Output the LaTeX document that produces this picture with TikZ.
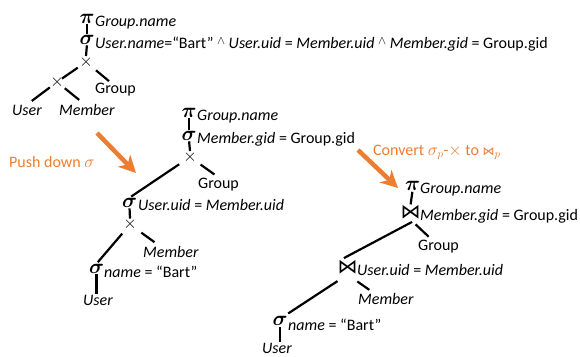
\documentclass[tikz,border=0pt]{standalone}
\usepackage{fontspec}
\setmainfont{Carlito}
\newfontfamily\djv{DejaVu Sans}
\usetikzlibrary{arrows.meta}
\definecolor{orng}{HTML}{ED7D31}
\newcommand\andop{ \raisebox{4pt}{\fontsize{13}{13}\selectfont$\wedge$} }
\tikzset{
  lab/.style={inner sep=0pt, font=\fontsize{16}{16}\selectfont, anchor=base west},
  leaf/.style={lab, font=\fontsize{16}{16}\selectfont\itshape},
  bigop/.style={inner sep=0pt, font=\fontsize{21}{21}\selectfont\boldmath},
  crs/.style={inner sep=0pt, font=\fontsize{16}{16}\selectfont},
  jn/.style={inner sep=0pt, font=\fontsize{20}{20}\selectfont\djv},
  e/.style 2 args={line width=2.2pt, shorten <=#1pt, shorten >=#2pt},
  note/.style={lab, text=orng},
  bigarrow/.style={orng, line width=4.5pt, -{Stealth[length=17pt,width=17pt,inset=5pt]}}
}
\begin{document}
\begin{tikzpicture}[x=1pt,y=-1pt]
\useasboundingbox (0,0) rectangle (580,356);
% ---------- tree 1
\node[bigop] (pi1) at (87,18.5) {$\pi$};
\node[lab] (pi1t) at (95,26) {\itshape Group.name};
\node[bigop] (sg1) at (87,39.5) {$\sigma$};
\node[lab] (sg1t) at (95,48) {\textit{User.name}=“Bart”\andop\textit{User.uid} = \textit{Member.uid}\andop\textit{Member.gid} = Group.gid};
\node[crs] (x1) at (86,62) {$\times$};
\node[crs] (x2) at (57,82) {$\times$};
\node[lab] (g1) at (95,93) {Group};
\node[leaf] (u1) at (12,115) {User};
\node[leaf] (m1) at (59,115) {Member};
\draw[e={1}{1}] (pi1.south) -- (sg1.north);
\draw[e={1}{0}] (sg1.south) -- (x1.north);
\draw[e={10}{6}] (x1.center) -- (x2.center);
\draw[e={13}{2}] (x1.center) -- ([xshift=-5pt]g1.north);
\draw[e={9}{6}] (x2.center) -- (u1.north);
\draw[e={10}{6}] (x2.center) -- ([xshift=-3pt]m1.north);
% ---------- arrow 1
\coordinate (a1s) at (97,133);
\coordinate (a1e) at (136,173);
\draw[bigarrow] (a1s) -- (a1e);
\node[note] (n1) at (9,167) {Push down $\sigma$};
% ---------- tree 2
\node[bigop] (pi2) at (189,112.5) {$\pi$};
\node[lab] (pi2t) at (197,120) {\itshape Group.name};
\node[bigop] (sg2) at (189,135.5) {$\sigma$};
\node[lab] (sg2t) at (197,143) {\textit{Member.gid} = Group.gid};
\node[crs] (x3) at (190,157) {$\times$};
\node[lab] (g2) at (198,188) {Group};
\node[bigop] (sg3) at (129.5,202.5) {$\sigma$};
\node[lab] (sg3t) at (138,210) {\textit{User.uid} = \textit{Member.uid}};
\node[crs] (x4) at (130,224.5) {$\times$};
\node[leaf] (m2) at (143,257) {Member};
\node[bigop] (sg4) at (96.5,268.5) {$\sigma$};
\node[lab] (sg4t) at (104,277) {\textit{name} = “Bart”};
\node[leaf] (u2) at (83,305) {User};
\draw[e={1}{1}] (pi2.south) -- (sg2.north);
\draw[e={1}{0}] (sg2.south) -- (x3.north);
\draw[e={13}{2}] (x3.center) -- (sg3.north);
\draw[e={13}{5}] (x3.center) -- (g2.north);
\draw[e={1}{0}] (sg3.south) -- (x4.north);
\draw[e={12}{2}] (x4.center) -- (sg4.north);
\draw[e={14}{6}] (x4.center) -- ([xshift=-11.5pt]m2.north);
\draw[e={1}{1}] (sg4.south) -- (sg4.south |- u2.north);
% ---------- arrow 2
\coordinate (a2s) at (358,150);
\coordinate (a2e) at (398,188);
\draw[bigarrow] (a2s) -- (a2e);
\node[note] (n2) at (373,155) {Convert $\sigma_p$-$\times$ to {\djv\fontsize{12}{12}\selectfont ⋈}$_p$};
% ---------- tree 3
\node[bigop] (pi3) at (412.5,186) {$\pi$};
\node[lab] (pi3t) at (420,193) {\itshape Group.name};
\node[jn] (j1) at (410.5,212.5) {⋈};
\node[lab] (j1t) at (420,220) {\textit{Member.gid} = Group.gid};
\node[lab] (g3) at (418,250) {Group};
\node[jn] (j2) at (347.5,267.5) {⋈};
\node[lab] (j2t) at (357,275) {\textit{User.uid} = \textit{Member.uid}};
\node[leaf] (m3) at (358,304) {Member};
\node[bigop] (sg5) at (280,321) {$\sigma$};
\node[lab] (sg5t) at (288,330) {\textit{name} = “Bart”};
\node[leaf] (u3) at (262,353) {User};
\draw[e={1}{1}] (pi3.south) -- (j1.north);
\draw[e={5}{5}] ([xshift=6pt]j1.south) -- ([xshift=-8pt]j2.north);
\draw[e={7}{4}] (j1.south) -- ([xshift=-7pt]g3.north);
\draw[e={12}{5}] (j2.south) -- ([xshift=4pt]sg5.north);
\draw[e={12}{5}] (j2.south) -- ([xshift=-12.5pt]m3.north);
\draw[e={1}{1}] (sg5.south) -- (sg5.south |- u3.north);
\end{tikzpicture}
\end{document}
